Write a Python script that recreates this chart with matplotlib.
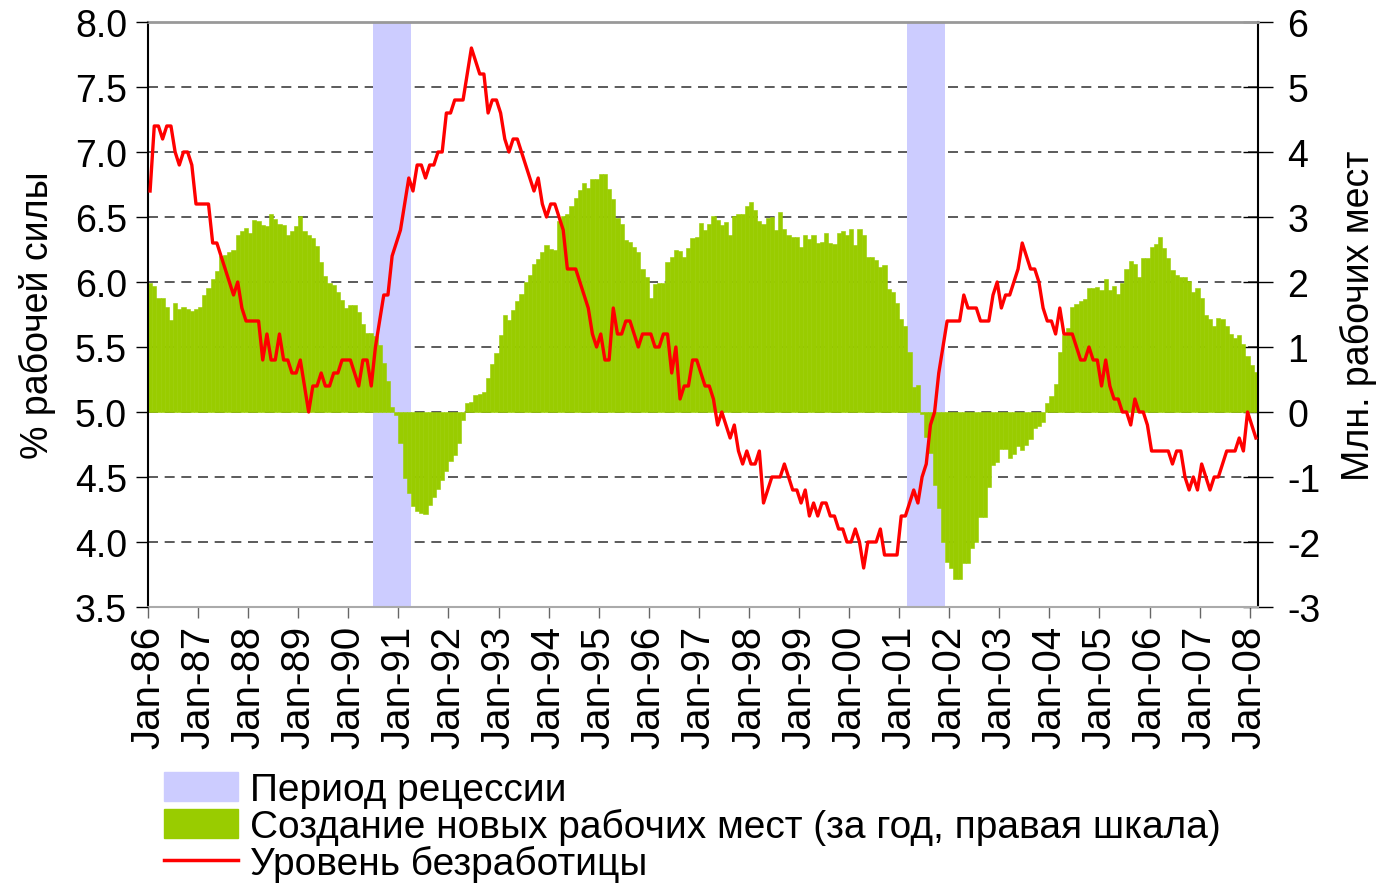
import matplotlib
matplotlib.use("Agg")
import matplotlib.pyplot as plt
import numpy as np
import pandas as pd
from matplotlib.patches import Patch
from matplotlib.lines import Line2D

plt.rcParams['font.family'] = ['Liberation Sans', 'DejaVu Sans']
plt.rcParams['axes.unicode_minus'] = False

# monthly data, Jan-86 .. Feb-08
months = pd.period_range('1986-01', '2008-02', freq='M')

# unemployment rate, % of labour force (left scale)
unemp = [
    6.7, 7.2, 7.2, 7.1, 7.2, 7.2, 7.0, 6.9, 7.0, 7.0, 6.9, 6.6,  # 1986
    6.6, 6.6, 6.6, 6.3, 6.3, 6.2, 6.1, 6.0, 5.9, 6.0, 5.8, 5.7,  # 1987
    5.7, 5.7, 5.7, 5.4, 5.6, 5.4, 5.4, 5.6, 5.4, 5.4, 5.3, 5.3,  # 1988
    5.4, 5.2, 5.0, 5.2, 5.2, 5.3, 5.2, 5.2, 5.3, 5.3, 5.4, 5.4,  # 1989
    5.4, 5.3, 5.2, 5.4, 5.4, 5.2, 5.5, 5.7, 5.9, 5.9, 6.2, 6.3,  # 1990
    6.4, 6.6, 6.8, 6.7, 6.9, 6.9, 6.8, 6.9, 6.9, 7.0, 7.0, 7.3,  # 1991
    7.3, 7.4, 7.4, 7.4, 7.6, 7.8, 7.7, 7.6, 7.6, 7.3, 7.4, 7.4,  # 1992
    7.3, 7.1, 7.0, 7.1, 7.1, 7.0, 6.9, 6.8, 6.7, 6.8, 6.6, 6.5,  # 1993
    6.6, 6.6, 6.5, 6.4, 6.1, 6.1, 6.1, 6.0, 5.9, 5.8, 5.6, 5.5,  # 1994
    5.6, 5.4, 5.4, 5.8, 5.6, 5.6, 5.7, 5.7, 5.6, 5.5, 5.6, 5.6,  # 1995
    5.6, 5.5, 5.5, 5.6, 5.6, 5.3, 5.5, 5.1, 5.2, 5.2, 5.4, 5.4,  # 1996
    5.3, 5.2, 5.2, 5.1, 4.9, 5.0, 4.9, 4.8, 4.9, 4.7, 4.6, 4.7,  # 1997
    4.6, 4.6, 4.7, 4.3, 4.4, 4.5, 4.5, 4.5, 4.6, 4.5, 4.4, 4.4,  # 1998
    4.3, 4.4, 4.2, 4.3, 4.2, 4.3, 4.3, 4.2, 4.2, 4.1, 4.1, 4.0,  # 1999
    4.0, 4.1, 4.0, 3.8, 4.0, 4.0, 4.0, 4.1, 3.9, 3.9, 3.9, 3.9,  # 2000
    4.2, 4.2, 4.3, 4.4, 4.3, 4.5, 4.6, 4.9, 5.0, 5.3, 5.5, 5.7,  # 2001
    5.7, 5.7, 5.7, 5.9, 5.8, 5.8, 5.8, 5.7, 5.7, 5.7, 5.9, 6.0,  # 2002
    5.8, 5.9, 5.9, 6.0, 6.1, 6.3, 6.2, 6.1, 6.1, 6.0, 5.8, 5.7,  # 2003
    5.7, 5.6, 5.8, 5.6, 5.6, 5.6, 5.5, 5.4, 5.4, 5.5, 5.4, 5.4,  # 2004
    5.2, 5.4, 5.2, 5.1, 5.1, 5.0, 5.0, 4.9, 5.1, 5.0, 5.0, 4.9,  # 2005
    4.7, 4.7, 4.7, 4.7, 4.7, 4.6, 4.7, 4.7, 4.5, 4.4, 4.5, 4.4,  # 2006
    4.6, 4.5, 4.4, 4.5, 4.5, 4.6, 4.7, 4.7, 4.7, 4.8, 4.7, 5.0,  # 2007
    4.9, 4.8,                                                    # 2008
]

# new jobs over 12 months, millions (right scale)
jobs = [
    1.99, 1.94, 1.75, 1.76, 1.62, 1.42, 1.68, 1.58, 1.62, 1.59, 1.55, 1.59,
    1.62, 1.80, 1.91, 2.05, 2.17, 2.40, 2.42, 2.46, 2.49, 2.73, 2.78, 2.83,
    2.75, 2.95, 2.94, 2.88, 2.86, 3.04, 2.97, 2.89, 2.87, 2.73, 2.79, 2.86,
    3.01, 2.78, 2.73, 2.68, 2.56, 2.31, 2.10, 1.99, 1.96, 1.84, 1.72, 1.60,
    1.65, 1.65, 1.54, 1.36, 1.21, 1.21, 1.17, 1.03, 0.75, 0.48, 0.08, -0.04,
    -0.48, -1.02, -1.25, -1.44, -1.52, -1.56, -1.57, -1.43, -1.31, -1.18, -1.05, -0.91,
    -0.76, -0.66, -0.47, -0.12, 0.14, 0.15, 0.26, 0.28, 0.31, 0.53, 0.74, 0.91,
    1.19, 1.50, 1.42, 1.57, 1.71, 1.81, 2.00, 2.11, 2.27, 2.36, 2.46, 2.57,
    2.51, 2.49, 2.94, 3.02, 3.04, 3.17, 3.30, 3.42, 3.52, 3.45, 3.59, 3.59,
    3.66, 3.66, 3.43, 3.27, 2.98, 2.89, 2.65, 2.61, 2.54, 2.46, 2.20, 2.08,
    1.75, 1.97, 1.98, 1.99, 2.31, 2.39, 2.50, 2.47, 2.39, 2.53, 2.67, 2.69,
    2.91, 2.80, 2.89, 3.01, 2.95, 2.88, 2.93, 2.72, 3.02, 3.05, 3.04, 3.17,
    3.23, 3.11, 2.94, 2.90, 2.98, 3.00, 2.80, 3.07, 2.81, 2.72, 2.69, 2.69,
    2.54, 2.72, 2.66, 2.72, 2.60, 2.62, 2.76, 2.60, 2.59, 2.75, 2.78, 2.72,
    2.81, 2.57, 2.81, 2.72, 2.39, 2.39, 2.34, 2.23, 2.26, 1.89, 1.85, 1.68,
    1.43, 1.33, 0.92, 0.39, 0.42, -0.03, -0.39, -0.63, -1.12, -1.47, -2.00, -2.31,
    -2.40, -2.57, -2.57, -2.33, -2.33, -2.09, -2.00, -1.61, -1.61, -1.15, -0.82, -0.77,
    -0.57, -0.57, -0.70, -0.64, -0.53, -0.59, -0.51, -0.41, -0.25, -0.22, -0.15, 0.14,
    0.24, 0.43, 0.92, 1.18, 1.30, 1.62, 1.66, 1.71, 1.74, 1.91, 1.91, 1.92,
    1.87, 2.04, 1.87, 1.94, 1.82, 1.98, 2.20, 2.32, 2.27, 2.08, 2.37, 2.37,
    2.54, 2.59, 2.69, 2.53, 2.37, 2.18, 2.11, 2.08, 2.07, 2.01, 1.85, 1.91,
    1.75, 1.50, 1.43, 1.32, 1.44, 1.43, 1.33, 1.20, 1.14, 1.18, 1.05, 0.86,
    0.72, 0.61,
]

# recessions (first and last month)
recessions = [('1990-07', '1991-03'), ('2001-03', '2001-11')]

labels = ['Период рецессии',
          'Создание новых рабочих мест (за год, правая шкала)',
          'Уровень безработицы']

GREEN = '#99CC00'
RED = '#FF0000'
LAV = '#CCCCFF'

x = np.arange(len(months))

fig = plt.figure(figsize=(13.82, 8.87), dpi=100)
ax = fig.add_axes([148/1382, 1-608/887, 1110/1382, 585/887])
ax2 = ax.twinx()

# bars on the "jobs" axis, ticks shown on the right
ax.bar(x, jobs, width=1.0, align='edge', color=GREEN, edgecolor=GREEN,
       linewidth=0.4, zorder=2)
for s, e in recessions:
    i0 = months.get_loc(pd.Period(s, 'M'))
    i1 = months.get_loc(pd.Period(e, 'M')) + 1
    ax.axvspan(i0, i1, color=LAV, lw=0, zorder=1)

ax.set_xlim(0, len(months))
ax.set_ylim(-3, 6)
ax.set_yticks(range(-3, 7))
ax.set_axisbelow(True)
ax.yaxis.grid(True, linestyle=(0, (6, 4)), color='#404040', linewidth=1.2)

xt = x[::12]
ax.set_xticks(xt)
ax.set_xticklabels([months[i].strftime('%b-%y') for i in xt], rotation=90)
ax.tick_params(axis='x', direction='out', length=8, width=1, color='#666666',
               labelsize=29, pad=5)

# unemployment line on the left axis
ax2.plot(x + 0.5, unemp, color=RED, lw=2.4, zorder=3)
ax2.set_ylim(3.5, 8.0)
ax2.set_yticks(np.arange(3.5, 8.01, 0.5))
ax2.set_yticklabels(['%.1f' % v for v in np.arange(3.5, 8.01, 0.5)])

# swap sides: jobs scale right, unemployment scale left
ax.yaxis.tick_right()
ax.yaxis.set_label_position('right')
ax2.yaxis.tick_left()
ax2.yaxis.set_label_position('left')
ax.tick_params(axis='y', direction='inout', length=22, width=1,
               labelsize=27, pad=10, left=False, labelleft=False)
ax2.tick_params(axis='y', direction='out', length=9, width=1,
                labelsize=27, pad=6, right=False, labelright=False)
ax.set_ylabel('Млн. рабочих мест', fontsize=27, labelpad=14)
ax2.set_ylabel('% рабочей силы', fontsize=27, labelpad=14)

for sp in ax2.spines.values():
    sp.set_visible(False)
ax.spines['left'].set_color('#000000')
ax.spines['right'].set_color('#000000')
ax.spines['left'].set_linewidth(1.5)
ax.spines['right'].set_linewidth(1.5)
ax.spines['top'].set_color('#999999')
ax.spines['top'].set_linewidth(2)
ax.spines['bottom'].set_color('#aaaaaa')
ax.spines['bottom'].set_linewidth(1.5)

handles = [Patch(color=LAV), Patch(color=GREEN), Line2D([], [], color=RED, lw=2.5)]
fig.legend(handles, labels, loc='upper left',
           bbox_to_anchor=(164/1382, 1-773/887), frameon=False, fontsize=28,
           handlelength=1.9, handleheight=0.75, handletextpad=0.3,
           labelspacing=0.0, borderaxespad=0, borderpad=0)

fig.savefig('out.png', dpi=100)
